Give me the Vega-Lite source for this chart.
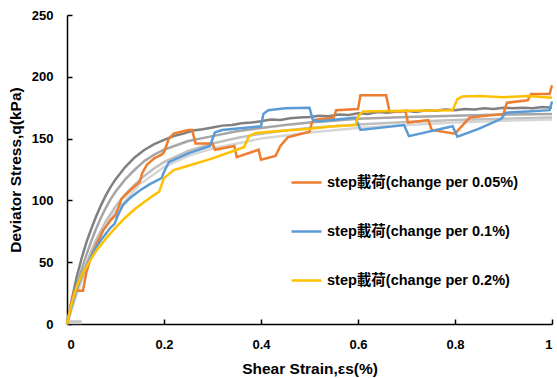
{
  "$schema": "https://vega.github.io/schema/vega-lite/v6.json",
  "width": 485,
  "height": 309,
  "autosize": {"type": "none"},
  "padding": {"left": 67, "top": 15, "right": 5, "bottom": 54},
  "background": "white",
  "config": {
    "view": {"stroke": null},
    "font": "Liberation Sans, Noto Sans CJK TC",
    "axis": {"grid": false, "domainColor": "#000000", "domainWidth": 1.5, "tickColor": "#000000", "tickWidth": 1.5, "labelColor": "#000000", "labelFontWeight": "bold", "labelFontSize": 13, "titleColor": "#000000", "titleFontWeight": "bold", "titleFontSize": 15.5, "labelFont": "Liberation Sans", "titleFont": "Liberation Sans", "zindex": 1}
  },
  "datasets": {
    "gray": [
      {"s":"g1","x":0,"y":0},{"s":"g1","x":0.01,"y":20},{"s":"g1","x":0.02,"y":38},{"s":"g1","x":0.03,"y":53},{"s":"g1","x":0.04,"y":66},{"s":"g1","x":0.05,"y":77},{"s":"g1","x":0.06,"y":87},{"s":"g1","x":0.07,"y":96},{"s":"g1","x":0.08,"y":104},{"s":"g1","x":0.09,"y":111},{"s":"g1","x":0.1,"y":117},{"s":"g1","x":0.12,"y":127},{"s":"g1","x":0.14,"y":135},{"s":"g1","x":0.16,"y":141},{"s":"g1","x":0.18,"y":145.5},{"s":"g1","x":0.2,"y":149},{"s":"g1","x":0.22,"y":152},{"s":"g1","x":0.24,"y":154},{"s":"g1","x":0.26,"y":156.5},{"s":"g1","x":0.28,"y":157.5},{"s":"g1","x":0.3,"y":159},{"s":"g1","x":0.32,"y":160.5},{"s":"g1","x":0.34,"y":161},{"s":"g1","x":0.36,"y":162.5},{"s":"g1","x":0.38,"y":163},{"s":"g1","x":0.4,"y":164},{"s":"g1","x":0.42,"y":165.5},{"s":"g1","x":0.44,"y":165},{"s":"g1","x":0.46,"y":166.5},{"s":"g1","x":0.48,"y":167},{"s":"g1","x":0.5,"y":167.5},{"s":"g1","x":0.52,"y":168.5},{"s":"g1","x":0.54,"y":168},{"s":"g1","x":0.56,"y":169.5},{"s":"g1","x":0.58,"y":169},{"s":"g1","x":0.6,"y":170.5},{"s":"g1","x":0.62,"y":170},{"s":"g1","x":0.64,"y":171.5},{"s":"g1","x":0.66,"y":171},{"s":"g1","x":0.68,"y":172},{"s":"g1","x":0.7,"y":172.5},{"s":"g1","x":0.72,"y":171.5},{"s":"g1","x":0.74,"y":173},{"s":"g1","x":0.76,"y":172.5},{"s":"g1","x":0.78,"y":173.5},{"s":"g1","x":0.8,"y":173},{"s":"g1","x":0.82,"y":174},{"s":"g1","x":0.84,"y":173.5},{"s":"g1","x":0.86,"y":174.5},{"s":"g1","x":0.88,"y":174},{"s":"g1","x":0.9,"y":175},{"s":"g1","x":0.92,"y":174.5},{"s":"g1","x":0.94,"y":175},{"s":"g1","x":0.96,"y":174.5},{"s":"g1","x":0.98,"y":175.5},{"s":"g1","x":1.0,"y":175},
      {"s":"g2","x":0,"y":0},{"s":"g2","x":0.01,"y":16},{"s":"g2","x":0.02,"y":31},{"s":"g2","x":0.03,"y":44},{"s":"g2","x":0.04,"y":56},{"s":"g2","x":0.05,"y":67},{"s":"g2","x":0.06,"y":77},{"s":"g2","x":0.07,"y":86},{"s":"g2","x":0.08,"y":94},{"s":"g2","x":0.09,"y":101},{"s":"g2","x":0.1,"y":107},{"s":"g2","x":0.12,"y":117},{"s":"g2","x":0.14,"y":125},{"s":"g2","x":0.16,"y":132},{"s":"g2","x":0.18,"y":137},{"s":"g2","x":0.2,"y":141},{"s":"g2","x":0.25,"y":148},{"s":"g2","x":0.3,"y":152},{"s":"g2","x":0.35,"y":156},{"s":"g2","x":0.4,"y":158.5},{"s":"g2","x":0.45,"y":161},{"s":"g2","x":0.5,"y":163},{"s":"g2","x":0.55,"y":164.5},{"s":"g2","x":0.6,"y":166},{"s":"g2","x":0.7,"y":167.5},{"s":"g2","x":0.8,"y":168.5},{"s":"g2","x":0.9,"y":169.5},{"s":"g2","x":1.0,"y":170},
      {"s":"g3","x":0,"y":0},{"s":"g3","x":0.01,"y":13},{"s":"g3","x":0.02,"y":26},{"s":"g3","x":0.03,"y":38},{"s":"g3","x":0.04,"y":49},{"s":"g3","x":0.05,"y":59},{"s":"g3","x":0.06,"y":68},{"s":"g3","x":0.08,"y":83},{"s":"g3","x":0.1,"y":95},{"s":"g3","x":0.12,"y":105},{"s":"g3","x":0.14,"y":113},{"s":"g3","x":0.16,"y":120},{"s":"g3","x":0.18,"y":126},{"s":"g3","x":0.2,"y":131},{"s":"g3","x":0.25,"y":140},{"s":"g3","x":0.3,"y":146},{"s":"g3","x":0.35,"y":150.5},{"s":"g3","x":0.4,"y":154},{"s":"g3","x":0.45,"y":156.5},{"s":"g3","x":0.5,"y":158.5},{"s":"g3","x":0.6,"y":161.5},{"s":"g3","x":0.7,"y":163.5},{"s":"g3","x":0.8,"y":165},{"s":"g3","x":0.9,"y":166},{"s":"g3","x":1.0,"y":167},
      {"s":"g4","x":0,"y":0},{"s":"g4","x":0.02,"y":24},{"s":"g4","x":0.05,"y":56},{"s":"g4","x":0.08,"y":80},{"s":"g4","x":0.1,"y":91},{"s":"g4","x":0.15,"y":113},{"s":"g4","x":0.2,"y":127},{"s":"g4","x":0.25,"y":136},{"s":"g4","x":0.3,"y":142},{"s":"g4","x":0.4,"y":150},{"s":"g4","x":0.5,"y":155},{"s":"g4","x":0.6,"y":158.5},{"s":"g4","x":0.7,"y":161},{"s":"g4","x":0.8,"y":163},{"s":"g4","x":0.9,"y":164.5},{"s":"g4","x":1.0,"y":165.5}
    ],
    "stub": [
      {"x":0,"y":1.5},{"x":0.03,"y":1.5}
    ],
    "step": [
      {"s":"step載荷(change per 0.05%)","x":0,"y":0},{"s":"step載荷(change per 0.05%)","x":0.008,"y":15},{"s":"step載荷(change per 0.05%)","x":0.015,"y":27},{"s":"step載荷(change per 0.05%)","x":0.033,"y":27},{"s":"step載荷(change per 0.05%)","x":0.04,"y":42},{"s":"step載荷(change per 0.05%)","x":0.05,"y":55},{"s":"step載荷(change per 0.05%)","x":0.06,"y":64},{"s":"step載荷(change per 0.05%)","x":0.075,"y":76},{"s":"step載荷(change per 0.05%)","x":0.09,"y":84},{"s":"step載荷(change per 0.05%)","x":0.1,"y":88},{"s":"step載荷(change per 0.05%)","x":0.105,"y":93},{"s":"step載荷(change per 0.05%)","x":0.112,"y":101},{"s":"step載荷(change per 0.05%)","x":0.13,"y":108},{"s":"step載荷(change per 0.05%)","x":0.15,"y":115},{"s":"step載荷(change per 0.05%)","x":0.155,"y":122},{"s":"step載荷(change per 0.05%)","x":0.165,"y":129},{"s":"step載荷(change per 0.05%)","x":0.18,"y":134},{"s":"step載荷(change per 0.05%)","x":0.195,"y":137},{"s":"step載荷(change per 0.05%)","x":0.2,"y":139},{"s":"step載荷(change per 0.05%)","x":0.21,"y":150},{"s":"step載荷(change per 0.05%)","x":0.22,"y":154},{"s":"step載荷(change per 0.05%)","x":0.25,"y":157},{"s":"step載荷(change per 0.05%)","x":0.258,"y":157},{"s":"step載荷(change per 0.05%)","x":0.265,"y":146},{"s":"step載荷(change per 0.05%)","x":0.3,"y":146},{"s":"step載荷(change per 0.05%)","x":0.305,"y":141},{"s":"step載荷(change per 0.05%)","x":0.345,"y":144},{"s":"step載荷(change per 0.05%)","x":0.35,"y":135},{"s":"step載荷(change per 0.05%)","x":0.395,"y":141},{"s":"step載荷(change per 0.05%)","x":0.4,"y":133},{"s":"step載荷(change per 0.05%)","x":0.43,"y":136},{"s":"step載荷(change per 0.05%)","x":0.44,"y":144},{"s":"step載荷(change per 0.05%)","x":0.455,"y":151},{"s":"step載荷(change per 0.05%)","x":0.5,"y":155.5},{"s":"step載荷(change per 0.05%)","x":0.505,"y":163},{"s":"step載荷(change per 0.05%)","x":0.51,"y":165},{"s":"step載荷(change per 0.05%)","x":0.55,"y":167},{"s":"step載荷(change per 0.05%)","x":0.555,"y":173},{"s":"step載荷(change per 0.05%)","x":0.6,"y":174},{"s":"step載荷(change per 0.05%)","x":0.605,"y":185},{"s":"step載荷(change per 0.05%)","x":0.658,"y":185},{"s":"step載荷(change per 0.05%)","x":0.665,"y":172},{"s":"step載荷(change per 0.05%)","x":0.698,"y":172},{"s":"step載荷(change per 0.05%)","x":0.703,"y":163},{"s":"step載荷(change per 0.05%)","x":0.745,"y":165},{"s":"step載荷(change per 0.05%)","x":0.752,"y":157},{"s":"step載荷(change per 0.05%)","x":0.8,"y":154},{"s":"step載荷(change per 0.05%)","x":0.83,"y":167},{"s":"step載荷(change per 0.05%)","x":0.9,"y":170},{"s":"step載荷(change per 0.05%)","x":0.907,"y":179},{"s":"step載荷(change per 0.05%)","x":0.95,"y":181},{"s":"step載荷(change per 0.05%)","x":0.957,"y":186},{"s":"step載荷(change per 0.05%)","x":0.995,"y":186},{"s":"step載荷(change per 0.05%)","x":1.0,"y":193},
      {"s":"step載荷(change per 0.1%)","x":0,"y":0},{"s":"step載荷(change per 0.1%)","x":0.01,"y":15},{"s":"step載荷(change per 0.1%)","x":0.02,"y":28},{"s":"step載荷(change per 0.1%)","x":0.03,"y":38},{"s":"step載荷(change per 0.1%)","x":0.04,"y":47},{"s":"step載荷(change per 0.1%)","x":0.05,"y":55},{"s":"step載荷(change per 0.1%)","x":0.06,"y":62},{"s":"step載荷(change per 0.1%)","x":0.07,"y":68},{"s":"step載荷(change per 0.1%)","x":0.08,"y":73},{"s":"step載荷(change per 0.1%)","x":0.09,"y":78},{"s":"step載荷(change per 0.1%)","x":0.098,"y":81},{"s":"step載荷(change per 0.1%)","x":0.105,"y":88},{"s":"step載荷(change per 0.1%)","x":0.115,"y":96},{"s":"step載荷(change per 0.1%)","x":0.13,"y":102},{"s":"step載荷(change per 0.1%)","x":0.15,"y":108},{"s":"step載荷(change per 0.1%)","x":0.17,"y":113},{"s":"step載荷(change per 0.1%)","x":0.195,"y":118},{"s":"step載荷(change per 0.1%)","x":0.2,"y":123},{"s":"step載荷(change per 0.1%)","x":0.21,"y":131},{"s":"step載荷(change per 0.1%)","x":0.25,"y":138},{"s":"step載荷(change per 0.1%)","x":0.295,"y":144},{"s":"step載荷(change per 0.1%)","x":0.305,"y":155},{"s":"step載荷(change per 0.1%)","x":0.32,"y":157},{"s":"step載荷(change per 0.1%)","x":0.4,"y":160},{"s":"step載荷(change per 0.1%)","x":0.405,"y":170},{"s":"step載荷(change per 0.1%)","x":0.415,"y":173},{"s":"step載荷(change per 0.1%)","x":0.45,"y":174.5},{"s":"step載荷(change per 0.1%)","x":0.5,"y":175},{"s":"step載荷(change per 0.1%)","x":0.507,"y":165},{"s":"step載荷(change per 0.1%)","x":0.52,"y":164},{"s":"step載荷(change per 0.1%)","x":0.595,"y":167},{"s":"step載荷(change per 0.1%)","x":0.605,"y":157},{"s":"step載荷(change per 0.1%)","x":0.695,"y":161},{"s":"step載荷(change per 0.1%)","x":0.705,"y":152},{"s":"step載荷(change per 0.1%)","x":0.795,"y":160},{"s":"step載荷(change per 0.1%)","x":0.805,"y":151.5},{"s":"step載荷(change per 0.1%)","x":0.85,"y":158},{"s":"step載荷(change per 0.1%)","x":0.895,"y":166},{"s":"step載荷(change per 0.1%)","x":0.905,"y":171},{"s":"step載荷(change per 0.1%)","x":0.95,"y":172},{"s":"step載荷(change per 0.1%)","x":0.995,"y":173},{"s":"step載荷(change per 0.1%)","x":1.0,"y":180},
      {"s":"step載荷(change per 0.2%)","x":0,"y":0},{"s":"step載荷(change per 0.2%)","x":0.01,"y":17},{"s":"step載荷(change per 0.2%)","x":0.02,"y":30},{"s":"step載荷(change per 0.2%)","x":0.03,"y":39},{"s":"step載荷(change per 0.2%)","x":0.04,"y":46},{"s":"step載荷(change per 0.2%)","x":0.05,"y":53},{"s":"step載荷(change per 0.2%)","x":0.06,"y":59},{"s":"step載荷(change per 0.2%)","x":0.07,"y":64},{"s":"step載荷(change per 0.2%)","x":0.08,"y":69},{"s":"step載荷(change per 0.2%)","x":0.1,"y":78},{"s":"step載荷(change per 0.2%)","x":0.12,"y":86},{"s":"step載荷(change per 0.2%)","x":0.14,"y":93},{"s":"step載荷(change per 0.2%)","x":0.16,"y":99},{"s":"step載荷(change per 0.2%)","x":0.18,"y":104.5},{"s":"step載荷(change per 0.2%)","x":0.19,"y":107},{"s":"step載荷(change per 0.2%)","x":0.2,"y":118},{"s":"step載荷(change per 0.2%)","x":0.22,"y":124.5},{"s":"step載荷(change per 0.2%)","x":0.25,"y":128},{"s":"step載荷(change per 0.2%)","x":0.3,"y":134},{"s":"step載荷(change per 0.2%)","x":0.35,"y":141},{"s":"step載荷(change per 0.2%)","x":0.365,"y":143},{"s":"step載荷(change per 0.2%)","x":0.375,"y":152},{"s":"step載荷(change per 0.2%)","x":0.39,"y":154.5},{"s":"step載荷(change per 0.2%)","x":0.45,"y":156.5},{"s":"step載荷(change per 0.2%)","x":0.5,"y":158},{"s":"step載荷(change per 0.2%)","x":0.55,"y":160},{"s":"step載荷(change per 0.2%)","x":0.595,"y":161},{"s":"step載荷(change per 0.2%)","x":0.6,"y":168},{"s":"step載荷(change per 0.2%)","x":0.61,"y":172},{"s":"step載荷(change per 0.2%)","x":0.7,"y":172.5},{"s":"step載荷(change per 0.2%)","x":0.795,"y":173},{"s":"step載荷(change per 0.2%)","x":0.805,"y":182},{"s":"step載荷(change per 0.2%)","x":0.815,"y":184},{"s":"step載荷(change per 0.2%)","x":0.85,"y":184.5},{"s":"step載荷(change per 0.2%)","x":0.9,"y":183.5},{"s":"step載荷(change per 0.2%)","x":0.95,"y":184.5},{"s":"step載荷(change per 0.2%)","x":1.0,"y":183}
    ]
  },
  "layer": [
    {
      "data": {"name": "stub"},
      "mark": {"type": "line", "color": "#c8c8c8", "strokeWidth": 4},
      "encoding": {
        "x": {"field": "x", "type": "quantitative"},
        "y": {"field": "y", "type": "quantitative"}
      }
    },
    {
      "data": {"name": "gray"},
      "mark": {"type": "line", "strokeWidth": 2.5},
      "encoding": {
        "x": {"field": "x", "type": "quantitative", "scale": {"domain": [0, 1], "nice": false},
          "axis": {"values": [0, 0.2, 0.4, 0.6, 0.8, 1], "format": "~g", "tickSize": -5, "labelPadding": 19, "title": "Shear Strain,εs(%)", "titlePadding": 10}},
        "y": {"field": "y", "type": "quantitative", "scale": {"domain": [0, 250], "nice": false},
          "axis": {"values": [0, 50, 100, 150, 200, 250], "tickSize": -5, "labelPadding": 19, "title": "Deviator Stress,q(kPa)", "titlePadding": 8}},
        "stroke": {"field": "s", "type": "nominal", "scale": {"domain": ["g4", "g3", "g2", "g1"], "range": ["#d6d6d6", "#bfbfbf", "#a6a6a6", "#808080"]}, "legend": null},
        "order": {"field": "x", "type": "quantitative"}
      }
    },
    {
      "data": {"name": "step"},
      "mark": {"type": "line", "strokeWidth": 2.5},
      "encoding": {
        "x": {"field": "x", "type": "quantitative"},
        "y": {"field": "y", "type": "quantitative"},
        "color": {"field": "s", "type": "nominal",
          "scale": {"domain": ["step載荷(change per 0.05%)", "step載荷(change per 0.1%)", "step載荷(change per 0.2%)"], "range": ["#ED7D31", "#5B9BD5", "#FFC000"]},
          "legend": {"orient": "none", "legendX": 223, "legendY": 151, "title": null, "symbolType": "stroke", "symbolSize": 900, "symbolStrokeWidth": 2.5, "rowPadding": 26, "labelFontSize": 14.5, "labelFontWeight": "bold", "labelColor": "#000000", "labelFont": "Liberation Sans, Noto Sans CJK TC", "labelOffset": 4, "labelLimit": 400}},
        "order": {"field": "x", "type": "quantitative"}
      }
    }
  ]
}
